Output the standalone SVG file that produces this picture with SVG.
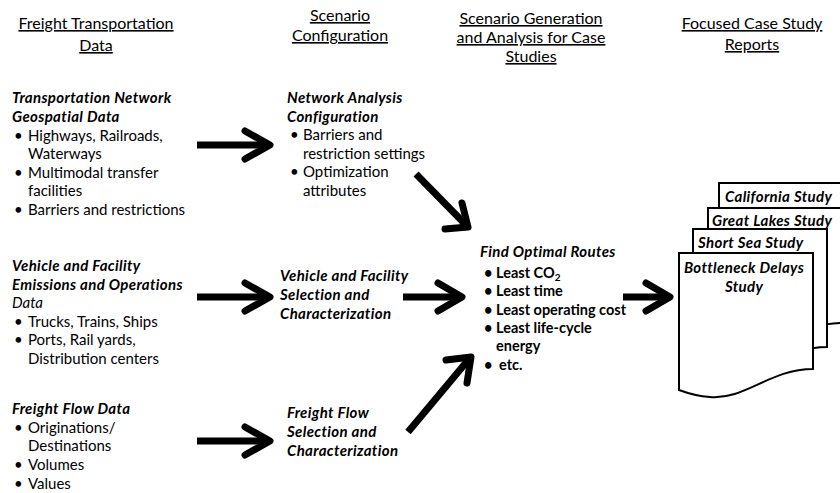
<svg xmlns="http://www.w3.org/2000/svg" width="840" height="493" viewBox="0 0 840 493">
<style>
text{font-family:Lato,"Open Sans","Liberation Sans",sans-serif;fill:#000}
.h{font-size:16px;text-anchor:middle;text-decoration:underline}
.t{font-size:15px}
.bi{font-size:15px;font-weight:bold;font-style:italic;letter-spacing:0.35px}
.it{font-size:15px;font-style:italic}
.b{font-size:14.5px;font-weight:bold}
.d{font-size:15px;font-weight:bold;font-style:italic;letter-spacing:0.35px}
.shaft{stroke:#000;stroke-width:7;fill:none}
.head{stroke:#000;stroke-width:7;fill:none;stroke-linecap:round;stroke-linejoin:round}
.doc{fill:#fff;stroke:#000;stroke-width:2}
</style>
<rect width="840" height="493" fill="#fff"/>
<g id="headers">
<text class="h" x="96" y="29">Freight Transportation</text>
<text class="h" x="96" y="51">Data</text>
<text class="h" x="340" y="21">Scenario</text>
<text class="h" x="340" y="41">Configuration</text>
<text class="h" x="531" y="24">Scenario Generation</text>
<text class="h" x="531" y="43">and Analysis for Case</text>
<text class="h" x="531" y="62">Studies</text>
<text class="h" x="752" y="29">Focused Case Study</text>
<text class="h" x="752" y="50">Reports</text>
</g>
<g id="network-data">
<text class="bi" x="12" y="103">Transportation Network</text>
<text class="bi" x="12" y="122">Geospatial Data</text>
<text class="t" x="14" y="141">•</text><text class="t" x="28" y="141">Highways, Railroads,</text>
<text class="t" x="28" y="159">Waterways</text>
<text class="t" x="14" y="178">•</text><text class="t" x="28" y="178">Multimodal transfer</text>
<text class="t" x="28" y="196">facilities</text>
<text class="t" x="14" y="215">•</text><text class="t" x="28" y="215">Barriers and restrictions</text>
</g>
<g id="vehicle-data">
<text class="bi" x="12" y="271">Vehicle and Facility</text>
<text class="bi" x="12" y="290">Emissions and Operations</text>
<text class="it" x="12" y="308">Data</text>
<text class="t" x="14" y="327">•</text><text class="t" x="28" y="327">Trucks, Trains, Ships</text>
<text class="t" x="14" y="345">•</text><text class="t" x="28" y="345">Ports, Rail yards,</text>
<text class="t" x="28" y="364">Distribution centers</text>
</g>
<g id="flow-data">
<text class="bi" x="12" y="414">Freight Flow Data</text>
<text class="t" x="14" y="433">•</text><text class="t" x="28" y="433">Originations/</text>
<text class="t" x="28" y="451">Destinations</text>
<text class="t" x="14" y="470">•</text><text class="t" x="28" y="470">Volumes</text>
<text class="t" x="14" y="489">•</text><text class="t" x="28" y="489">Values</text>
</g>
<g id="network-config">
<text class="bi" x="287" y="103">Network Analysis</text>
<text class="bi" x="287" y="122">Configuration</text>
<text class="t" x="290" y="140">•</text><text class="t" x="303" y="140">Barriers and</text>
<text class="t" x="303" y="159">restriction settings</text>
<text class="t" x="290" y="177">•</text><text class="t" x="303" y="177">Optimization</text>
<text class="t" x="303" y="196">attributes</text>
</g>
<g id="vehicle-config">
<text class="bi" x="280" y="281">Vehicle and Facility</text>
<text class="bi" x="280" y="300">Selection and</text>
<text class="bi" x="280" y="319">Characterization</text>
</g>
<g id="flow-config">
<text class="bi" x="287" y="418">Freight Flow</text>
<text class="bi" x="287" y="437">Selection and</text>
<text class="bi" x="287" y="456">Characterization</text>
</g>
<g id="optimal-routes">
<text class="bi" x="480" y="257">Find Optimal Routes</text>
<text class="b" x="484" y="278">•</text><text class="b" x="496" y="278">Least CO<tspan font-size="10" dy="3">2</tspan></text>
<text class="b" x="484" y="296">•</text><text class="b" x="496" y="296">Least time</text>
<text class="b" x="484" y="315">•</text><text class="b" x="496" y="315">Least operating cost</text>
<text class="b" x="484" y="333">•</text><text class="b" x="496" y="333">Least life-cycle</text>
<text class="b" x="496" y="351">energy</text>
<text class="b" x="484" y="370">•</text><text class="b" x="499" y="370">etc.</text>
</g>
<g id="reports">
<path class="doc" d="M719,183 H853 V300 C810,300 785,331 750,328 C735,327 727,324 719,321 Z"/>
<text class="d" x="725" y="202">California Study</text>
<path class="doc" d="M708,208 H842 V323 C799,323 774,354 739,351 C724,350 716,347 708,344 Z"/>
<text class="d" x="712" y="226">Great Lakes Study</text>
<path class="doc" d="M693,229 H827 V347 C784,347 759,378 724,375 C709,374 701,371 693,368 Z"/>
<text class="d" x="698" y="248">Short Sea Study</text>
<path class="doc" d="M679,253 H813 V369 C770,369 745,400 710,397 C695,396 687,393 679,390 Z"/>
<text class="d" x="744" y="273" text-anchor="middle">Bottleneck Delays</text>
<text class="d" x="744" y="292" text-anchor="middle">Study</text>
</g>
<g id="connectors">
<line class="shaft" x1="197" y1="145" x2="268" y2="145"/><polyline class="head" points="245,131 270,145 245,159"/>
<line class="shaft" x1="197" y1="297" x2="268" y2="297"/><polyline class="head" points="245,283 270,297 245,311"/>
<line class="shaft" x1="197" y1="441" x2="268" y2="441"/><polyline class="head" points="245,427 270,441 245,455"/>
<line class="shaft" x1="403" y1="297" x2="460" y2="297"/><polyline class="head" points="438,283 462,297 438,311"/>
<line class="shaft" x1="623" y1="297" x2="668" y2="297"/><polyline class="head" points="646,283 670,297 646,311"/>
<line class="shaft" x1="416" y1="174" x2="466" y2="225"/><polyline class="head" points="462,203 468,227 445,229"/>
<line class="shaft" x1="408" y1="432" x2="469" y2="359"/><polyline class="head" points="446,360 471,357 467,383"/>
</g>
</svg>
